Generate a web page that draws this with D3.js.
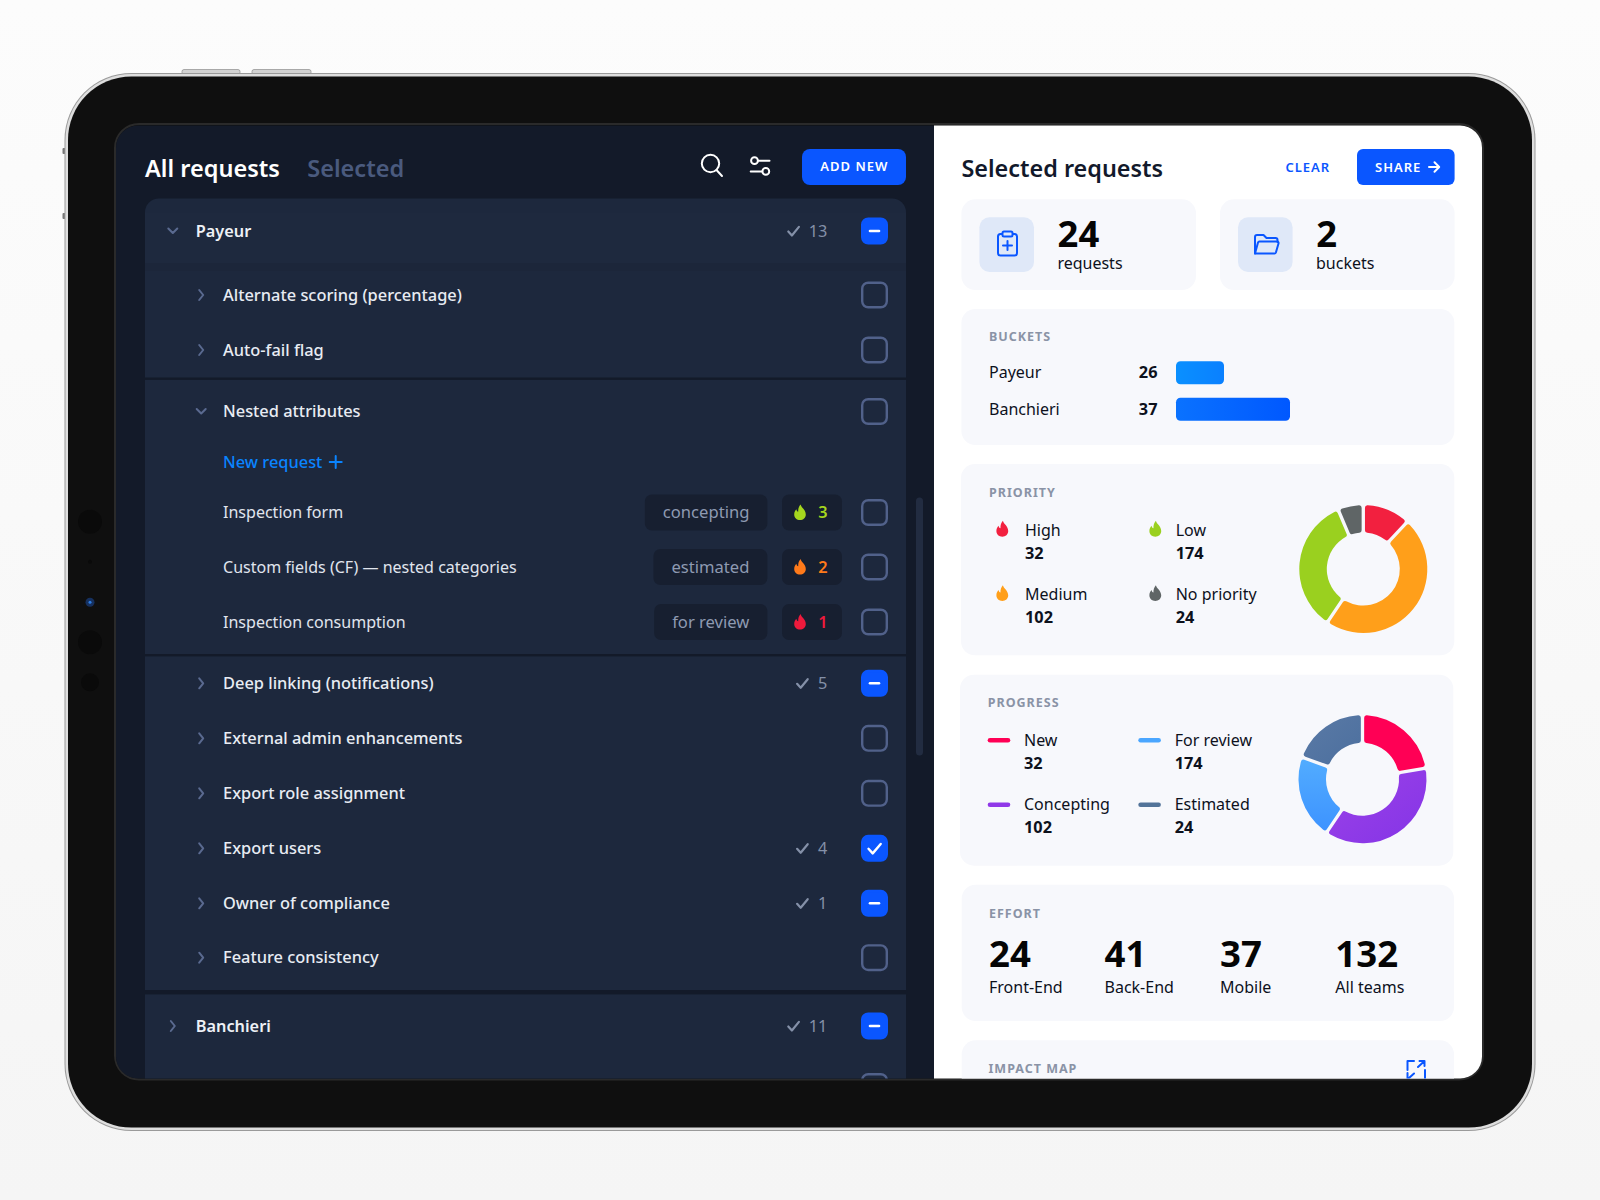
<!DOCTYPE html>
<html>
<head>
<meta charset="utf-8">
<title>Selected requests</title>
<script src="https://cdn.jsdelivr.net/npm/d3@7"></script>
<style>
  html, body { margin: 0; background: #fbfbfb; }
  svg { display: block; }
  text { font-family: "Noto Sans", sans-serif; }
</style>
</head>
<body>
<svg id="chart" width="1600" height="1200"></svg>
<script>
// list on the left
var rowNames = ["Alternate scoring (percentage)", "Auto-fail flag", "Nested attributes",
  "Deep linking (notifications)", "External admin enhancements", "Export role assignment",
  "Export users", "Owner of compliance", "Feature consistency"];
var rowChecks = [null, null, null, 5, null, null, 4, 1, null];
var rowBoxes = ["empty", "empty", "empty", "part", "empty", "empty", "full", "part", "empty"];

var groupNames = ["Payeur", "Banchieri"];
var groupChecks = [13, 11];

var subNames = ["Inspection form", "Custom fields (CF) — nested categories", "Inspection consumption"];
var subStages = ["concepting", "estimated", "for review"];
var subLevels = [3, 2, 1];

// cards on the right
var statValues = [24, 2];
var statLabels = ["requests", "buckets"];

var bucketNames = ["Payeur", "Banchieri"];
var bucketValues = [26, 37];

var priorityNames = ["High", "Medium", "Low", "No priority"];
var priorityCounts = [32, 102, 174, 24];
var priorityShares = [43, 171, 123, 23]; // slice sizes as drawn, they do not follow the counts

var progressNames = ["New", "Concepting", "For review", "Estimated"];
var progressCounts = [32, 102, 174, 24];
var progressShares = [80, 134, 76, 70];

var effortValues = [24, 41, 37, 132];
var effortLabels = ["Front-End", "Back-End", "Mobile", "All teams"];

// colours
var blue = "#0a56ff";
var ink = "#0d111c";
var muted = "#8a93a6";
var priorityColors = ["#f2203f", "#ff9f1a", "#9ad01f", "#5f6566"];
var progressColors = ["#ff0055", "url(#gradPurple)", "url(#gradBlue)", "url(#gradSlate)"];
var progressSwatch = ["#ff0055", "#9038e8", "#4aa6ff", "#527399"];
var levelColors = { 3: "#a5d61e", 2: "#ff7a1a", 1: "#ee1a3c" };

var flame = "M0.6,-8 C1,-5 5.8,-3 5.8,2 C5.8,5.4 3.2,7.6 0,7.6 C-3.2,7.6 -5.8,5.4 -5.8,2 C-5.8,-0.4 -4.8,-2 -3.6,-3.2 C-3.4,-1.6 -2.8,-0.8 -1.8,-0.8 C-2,-3.8 -1,-6.4 0.6,-8 Z";

var svg = d3.select("#chart");
var defs = svg.append("defs");

function gradient(id, x1, y1, x2, y2, from, to) {
  var g = defs.append("linearGradient").attr("id", id)
    .attr("x1", x1).attr("y1", y1).attr("x2", x2).attr("y2", y2);
  g.append("stop").attr("offset", "0%").attr("stop-color", from);
  g.append("stop").attr("offset", "100%").attr("stop-color", to);
}
gradient("gradPage", 0, 0, 0, 1, "#fcfcfc", "#f5f5f5");
gradient("gradPurple", 0, 0, 1, 1, "#9c42e8", "#8434e6");
gradient("gradBlue", 0, 0, 0, 1, "#52acff", "#3d93ff");
gradient("gradSlate", 0, 0, 1, 1, "#5a7aa6", "#4c6f9e");
gradient("gradBar0", 0, 0, 1, 0, "#0a90ff", "#0a80ff");
gradient("gradBar1", 0, 0, 1, 0, "#0a72ff", "#0058ff");

function label(parent, x, y, str, size, weight, fill, anchor, spacing) {
  return parent.append("text")
    .attr("x", x).attr("y", y).attr("dy", ".35em")
    .attr("font-size", size).attr("font-weight", weight)
    .attr("fill", fill).attr("text-anchor", anchor || "start")
    .attr("letter-spacing", spacing || 0)
    .text(str);
}

function line(parent, d, color, width) {
  return parent.append("path").attr("d", d).attr("fill", "none")
    .attr("stroke", color).attr("stroke-width", width)
    .attr("stroke-linecap", "round").attr("stroke-linejoin", "round");
}

function box(parent, x, y, w, h, r, fill) {
  return parent.append("rect").attr("x", x).attr("y", y)
    .attr("width", w).attr("height", h).attr("rx", r).attr("fill", fill);
}

// ---- device ----
box(svg, 0, 0, 1600, 1200, 0, "url(#gradPage)");
[[182, 58], [252, 59]].forEach(function(b) {
  box(svg, b[0], 69.5, b[1], 6, 2, "#d2d2d2").attr("stroke", "#8c8c8c").attr("stroke-width", 0.7);
});
[148, 213].forEach(function(y) { box(svg, 62.5, y, 3, 6, 1, "#777"); });

// edge: thin grey outline, silver band, dark body
box(svg, 64.5, 73, 1471, 1058, 67, "#9a9a9a");
box(svg, 65.5, 74, 1469, 1056, 66, "#dedede");
box(svg, 68, 76.5, 1464, 1051, 63.5, "#0f0f0f");

[[521.7, 12], [561.7, 2], [642.3, 12], [682.3, 9]].forEach(function(c) {
  svg.append("circle").attr("cx", 90).attr("cy", c[0]).attr("r", c[1]).attr("fill", "#0a0a0a");
});
svg.append("circle").attr("cx", 90).attr("cy", 602.3).attr("r", 4.5).attr("fill", "#16305e");
svg.append("circle").attr("cx", 90).attr("cy", 602.3).attr("r", 1.5).attr("fill", "#2c7be0");

box(svg, 115, 124, 1368, 955.5, 24, "#0f0f0f").attr("stroke", "#2a2a2a").attr("stroke-width", 2);
defs.append("clipPath").attr("id", "screenClip")
  .append("rect").attr("x", 116).attr("y", 125.5).attr("width", 1366).attr("height", 953).attr("rx", 22);

var screen = svg.append("g").attr("clip-path", "url(#screenClip)");

// ---- left panel ----
var left = screen.append("g");
box(left, 116, 125, 818, 954, 0, "#131a29");

label(left, 145, 168.7, "All requests", 23.5, 600, "#ffffff");
label(left, 307.3, 168.7, "Selected", 23.5, 600, "#4a5a7e");

left.append("circle").attr("cx", 710.5).attr("cy", 163.5).attr("r", 8.7)
  .attr("fill", "none").attr("stroke", "#fff").attr("stroke-width", 2);
line(left, "M716.5,170 L722,176", "#fff", 2);

left.append("circle").attr("cx", 754.5).attr("cy", 160.7).attr("r", 3.4)
  .attr("fill", "none").attr("stroke", "#fff").attr("stroke-width", 2);
left.append("circle").attr("cx", 765.8).attr("cy", 171.4).attr("r", 3.4)
  .attr("fill", "none").attr("stroke", "#fff").attr("stroke-width", 2);
line(left, "M758,160.7 H769.5 M750.7,171.4 H762.2", "#fff", 2);

box(left, 802, 149, 104, 36, 8, blue);
label(left, 854.3, 166.5, "ADD NEW", 13, 600, "#fff", "middle", 1);

// list body
var listTop = 198.5;
left.append("path").attr("fill", "#1d283d")
  .attr("d", "M145," + (listTop + 14) + " a14,14 0 0 1 14,-14 H892 a14,14 0 0 1 14,14 V1079 H145 Z");
box(left, 145, 263, 761, 8, 0, "#1c263a");
box(left, 145, 198.5 + 14, 761, 50.5, 0, "#1e293e");
box(left, 145, 377.5, 761, 2.4, 0, "#131a29");
box(left, 145, 654, 761, 2.4, 0, "#131a29");
box(left, 145, 990, 761, 4.4, 0, "#131a29");

// scrollbar
box(left, 916, 497.5, 7, 258, 3.5, "#222c41");

function chevron(parent, x, y, open) {
  var d = open ? "M" + (x - 4.5) + "," + (y - 2.5) + " l4.5,4.5 l4.5,-4.5"
               : "M" + (x - 2) + "," + (y - 5) + " l4,5 l-4,5";
  line(parent, d, "#5a6a90", 2);
}

function tick(parent, x, y, color, width) {
  line(parent, "M" + (x - 5.5) + "," + (y + 0.5) + " l3.6,4 l7,-8.6", color, width);
}

function checkbox(parent, y, state) {
  var x = 861, size = 27;
  var rect = box(parent, x + 1.2, y - size / 2 + 1.2, size - 2.4, size - 2.4, 6, state === "empty" ? "none" : blue);
  if (state === "empty") {
    rect.attr("stroke", "#51618a").attr("stroke-width", 2.4);
  } else {
    rect.attr("stroke", blue).attr("stroke-width", 2.4);
    if (state === "part") line(parent, "M" + (x + 9) + "," + y + " h9", "#fff", 2.6);
    if (state === "full") line(parent, "M" + (x + 7.5) + "," + (y + 0.5) + " l4.2,4.6 l8,-9.4", "#fff", 2.4);
  }
}

function count(parent, y, n) {
  var t = label(parent, 827.3, y, n, 16.3, 400, "#8490a8", "end");
  var w = String(n).length > 1 ? 18 : 9.2;
  tick(parent, 827.3 - w - 15.5, y, "#8490a8", 2.2);
  return t;
}

// group headers
var groupY = d3.scaleOrdinal(groupNames, [231, 1026]);
groupNames.forEach(function(name, i) {
  var y = groupY(name);
  chevron(left, 172.8, y, i === 0);
  label(left, 195.8, y, name, 16.3, 600, "#eef1f6");
  count(left, y, groupChecks[i]);
  checkbox(left, y, "part");
});

// request rows
var rowY = d3.scaleOrdinal(rowNames, [295, 350, 411.5, 683.3, 738.3, 793.3, 848.3, 903.3, 957.7]);
rowNames.forEach(function(name, i) {
  var y = rowY(name);
  chevron(left, 201.2, y, name === "Nested attributes");
  label(left, 223, y, name, 16.4, 500, "#e8ecf3");
  if (rowChecks[i] !== null) count(left, y, rowChecks[i]);
  checkbox(left, y, rowBoxes[i]);
});

// next row cut by the screen edge
checkbox(left, 1086.5, "empty");

// new request link
label(left, 223, 462, "New request", 16.4, 500, "#0a84ff");
line(left, "M335.7,456 v12 M329.7,462 h12", "#0a84ff", 2);

// nested rows
var subY = d3.scaleOrdinal(subNames, [512.5, 567, 622]);
subNames.forEach(function(name, i) {
  var y = subY(name);
  label(left, 223, y, name, 16.05, 400, "#e0e5ee");

  // pill is sized from its text, so the text goes in first
  var stage = label(left, 0, y, subStages[i], 16.6, 400, "#8e9ab2");
  var w = stage.node().getComputedTextLength();
  stage.attr("x", 767.4 - 18 - w);
  var pill = box(left, 767.4 - 36 - w, y - 18, w + 36, 36, 7, "#171f30");
  left.node().insertBefore(pill.node(), stage.node());

  var level = subLevels[i];
  box(left, 782, y - 18, 60, 36, 7, "#171f30");
  left.append("path").attr("d", flame).attr("fill", levelColors[level])
    .attr("transform", "translate(800," + y + ")");
  label(left, 823, y, level, 16.3, 600, levelColors[level], "middle");
  checkbox(left, y, "empty");
});

// ---- right panel ----
var right = screen.append("g");
box(right, 934, 125, 548, 954, 0, "#ffffff");

label(right, 961.4, 168.7, "Selected requests", 23.4, 600, "#12192b");
label(right, 1307.8, 167, "CLEAR", 13, 600, blue, "middle", 1);
box(right, 1357, 149, 97.6, 36, 6, blue);
label(right, 1375, 167, "SHARE", 13, 600, "#fff", "start", 1);
line(right, "M1429,167 h10 M1434.5,162.3 l4.7,4.7 l-4.7,4.7", "#fff", 2);

var cardFill = "#f7f8fc";
function card(x, y, w, h) { return box(right, x, y, w, h, 14, cardFill); }

// stat cards
var statX = d3.scaleOrdinal(statLabels, [961.4, 1220]);
statLabels.forEach(function(name, i) {
  var x = statX(name);
  card(x, 199.3, 234.6, 90.7);
  box(right, x + 18, 217.3, 54.6, 54.7, 10, "#dfe8f8");
  label(right, x + 96.2, 234, statValues[i], 36.4, 700, "#050505");
  label(right, x + 96, 263, name, 16, 400, ink);
});

// clipboard icon
box(right, 998, 234, 19, 21.5, 2.5, "none").attr("stroke", blue).attr("stroke-width", 2);
box(right, 1002.5, 231.5, 10, 5, 1.5, "#dfe8f8").attr("stroke", blue).attr("stroke-width", 2);
line(right, "M1007.5,241 v9 M1003,245.5 h9", blue, 2);

// folder icon
line(right, "M1255,253.5 V237 a2,2 0 0 1 2,-2 h6.5 l3,3 h9 a2,2 0 0 1 2,2 v2", blue, 2);
line(right, "M1255,253.5 l3,-11 a1.5,1.5 0 0 1 1.5,-1 h17.5 a1.5,1.5 0 0 1 1.5,2 l-2.6,9 a1.5,1.5 0 0 1 -1.5,1 Z", blue, 2);

// buckets
card(961.4, 309, 492.9, 136);
label(right, 989, 337, "BUCKETS", 12.5, 700, muted, "start", 1);

var barX = d3.scaleLinear().domain([18, 37]).range([0, 114]);
var barY = d3.scaleBand().domain(bucketNames).range([361.2, 420.7]).paddingInner(0.37).paddingOuter(0);

var bars = right.append("g").selectAll("g").data(bucketNames).enter().append("g")
  .attr("transform", function(d) { return "translate(0," + barY(d) + ")"; });
bars.append("rect")
  .attr("x", 1176).attr("rx", 4.5)
  .attr("width", function(d, i) { return barX(bucketValues[i]); })
  .attr("height", barY.bandwidth())
  .attr("fill", function(d, i) { return "url(#gradBar" + i + ")"; });
bars.append("text")
  .attr("x", 989).attr("y", barY.bandwidth() / 2).attr("dy", ".35em")
  .attr("font-size", 16).attr("fill", ink)
  .text(function(d) { return d; });
bars.append("text")
  .attr("x", 1157.5).attr("y", barY.bandwidth() / 2).attr("dy", ".35em")
  .attr("font-size", 16.3).attr("font-weight", 700).attr("fill", ink).attr("text-anchor", "end")
  .text(function(d, i) { return bucketValues[i]; });

function donut(cx, cy, shares, colors) {
  var pie = d3.pie().sort(null).value(function(d) { return d; });
  var arc = d3.arc().innerRadius(36.5).outerRadius(64).padAngle(0.052).padRadius(64).cornerRadius(2.5);
  right.append("g").attr("transform", "translate(" + cx + "," + cy + ")")
    .selectAll("path").data(pie(shares)).enter().append("path")
    .attr("d", arc)
    .attr("fill", function(d, i) { return colors[i]; });
}

// priority
card(961, 464, 493.3, 191.3);
label(right, 989, 492.3, "PRIORITY", 12.5, 700, muted, "start", 1);
var legendSlots = [[0, 0], [0, 1], [1, 0], [1, 1]];
priorityNames.forEach(function(name, i) {
  var x = [1025, 1175.7][legendSlots[i][0]];
  var y = [530, 594.3][legendSlots[i][1]];
  var fx = [1002.3, 1155.3][legendSlots[i][0]];
  right.append("path").attr("d", flame).attr("fill", priorityColors[i])
    .attr("transform", "translate(" + fx + "," + (y - 1) + ") scale(1.02)");
  label(right, x, y, name, 16, 400, ink);
  label(right, x, y + 23, priorityCounts[i], 16.3, 700, ink);
});
donut(1363.3, 569, priorityShares, priorityColors);

// progress
card(960, 674.7, 493.3, 191);
label(right, 987.7, 702.7, "PROGRESS", 12.5, 700, muted, "start", 1);
progressNames.forEach(function(name, i) {
  var x = [1024, 1174.7][legendSlots[i][0]];
  var y = [740.3, 804.7][legendSlots[i][1]];
  box(right, [987.7, 1138.3][legendSlots[i][0]], y - 2.3, 22.6, 4.6, 2.3, progressSwatch[i]);
  label(right, x, y, name, 16, 400, ink);
  label(right, x, y + 23, progressCounts[i], 16.3, 700, ink);
});
donut(1362.5, 779.2, progressShares, progressColors);

// effort
card(961.7, 884.7, 492.3, 136.3);
label(right, 989, 913.3, "EFFORT", 12.5, 700, muted, "start", 1);
var effortX = d3.scaleOrdinal(effortLabels, [989, 1104.5, 1220, 1335.3]);
effortLabels.forEach(function(name, i) {
  label(right, effortX(name), 954, effortValues[i], 36.6, 700, "#050505");
  label(right, effortX(name), 987.7, name, 16, 400, ink);
});

// impact map, cut off by the screen edge
card(961.7, 1040.3, 492.3, 80);
label(right, 988.5, 1068.3, "IMPACT MAP", 12.5, 700, muted, "start", 1);
line(right, "M1407.5,1070 V1061 H1414 M1418,1067 L1424,1061.5 M1419.5,1061 H1424.5 V1066 M1425,1070 V1081", blue, 2);
line(right, "M1407.5,1073 V1081 M1409,1078 L1414,1073.5", blue, 2);
</script>
</body>
</html>
